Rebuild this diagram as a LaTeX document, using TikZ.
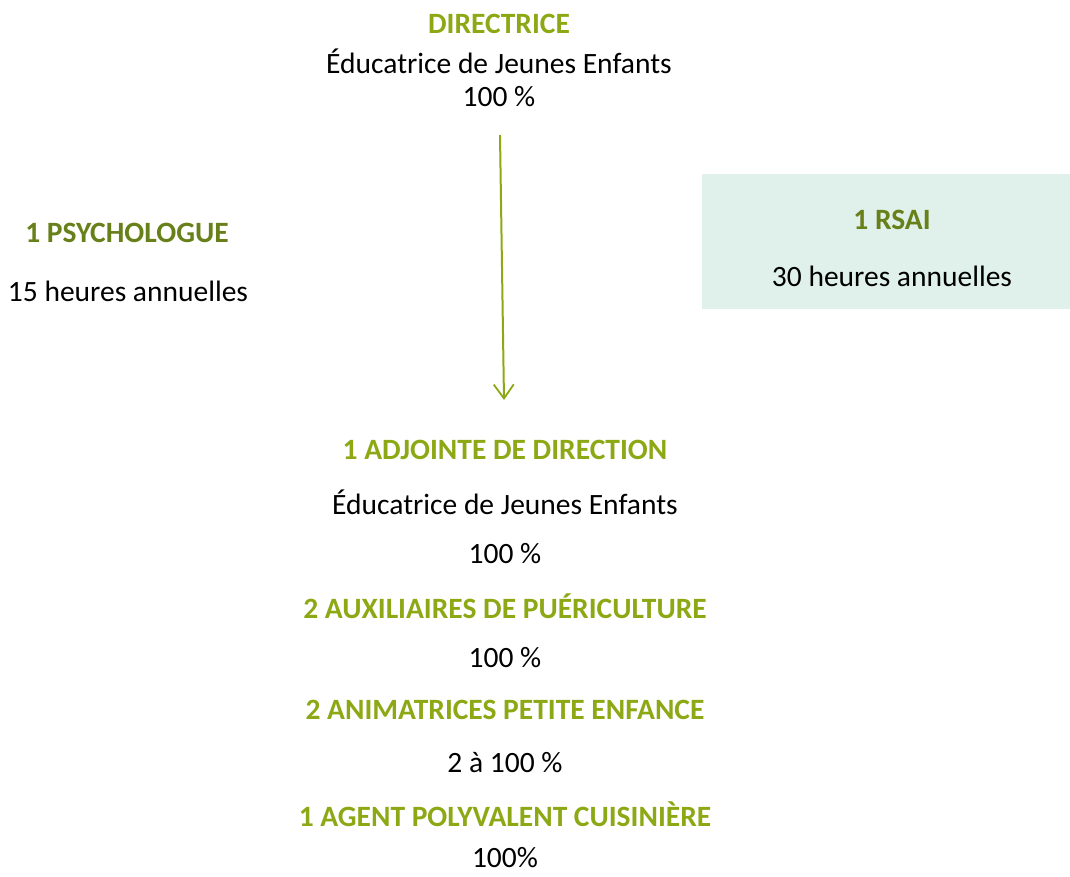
\documentclass[tikz,border=0pt]{standalone}
\usepackage{fontspec}
\setmainfont{Carlito}
\usetikzlibrary{arrows.meta}
\definecolor{lightolive}{HTML}{8CA915}
\definecolor{darkolive}{HTML}{68801A}
\definecolor{mint}{HTML}{DFF1EA}
\tikzset{
  lbl/.style={inner sep=0pt, font=\fontsize{29.5}{34}\selectfont, text=black},
  ttl/.style={lbl, font=\fontsize{29.5}{34}\selectfont\bfseries, text=lightolive},
  dttl/.style={lbl, font=\fontsize{29.5}{34}\selectfont\bfseries, text=darkolive},
  link/.style={draw=lightolive, line width=2pt, -{Straight Barb[length=14pt,width=20pt,line width=1.8pt]}},
}
\begin{document}
\begin{tikzpicture}[x=1pt,y=-1pt]
\useasboundingbox (0,0) rectangle (1070,877);
\fill[mint] (702,174) rectangle (1070,309);
\node[ttl] (dir) at (499,24) {DIRECTRICE};
\node[lbl] (dir2) at (499,61) {Éducatrice de Jeunes Enfants};
\node[lbl] (dir3) at (499,97) {100 \%};
\coordinate (as) at (500,135);
\coordinate (ae) at (504,400);
\draw[link] (as) -- (ae);
\node[dttl] (psy) at (127,233) {1 PSYCHOLOGUE};
\node[lbl] (psy2) at (128,291) {15 heures annuelles};
\node[dttl] (rsai) at (892,220) {1 RSAI};
\node[lbl] (rsai2) at (892,276) {30 heures annuelles};
\node[ttl] (adj) at (505,450) {1 ADJOINTE DE DIRECTION};
\node[lbl] (adj2) at (505,502) {Éducatrice de Jeunes Enfants};
\node[lbl] (adj3) at (505,554) {100 \%};
\node[ttl] (aux) at (505,606) {2 AUXILIAIRES DE PUÉRICULTURE};
\node[lbl] (aux2) at (505,658) {100 \%};
\node[ttl] (ani) at (505,710) {2 ANIMATRICES PETITE ENFANCE};
\node[lbl] (ani2) at (505,763) {2 à 100 \%};
\node[ttl] (agt) at (505,814) {1 AGENT POLYVALENT CUISINIÈRE};
\node[lbl] (agt2) at (505,858) {100\%};
\end{tikzpicture}
\end{document}
